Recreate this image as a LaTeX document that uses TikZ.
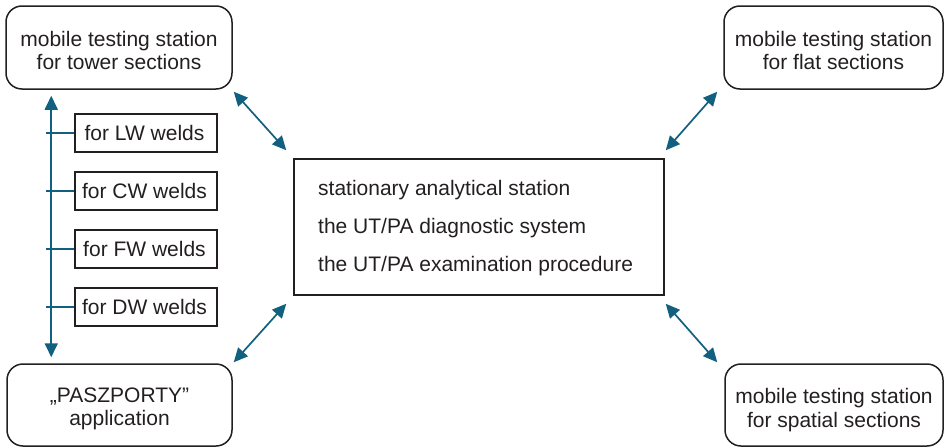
\documentclass[tikz,border=0pt]{standalone}
\usepackage{fontspec}
\setmainfont{Liberation Sans}
\usetikzlibrary{arrows.meta,calc}
\definecolor{linkblue}{RGB}{18,96,128}
\definecolor{ink}{RGB}{35,31,32}
\tikzset{
  rbox/.style={draw=ink,line width=1.5pt,rounded corners=16pt,inner sep=0pt},
  rtext/.style={align=center,text=ink,font=\fontsize{21}{23.5}\selectfont,inner sep=0pt},
  sbox/.style={draw=ink,line width=1.5pt,minimum width=142pt,minimum height=38pt,inner sep=0pt,
    text=ink,font=\fontsize{21}{23}\selectfont},
  cbox/.style={draw=ink,line width=1.5pt,minimum width=370pt,minimum height=136pt,inner sep=0pt},
  ctext/.style={anchor=west,text=ink,font=\fontsize{21}{23}\selectfont,inner sep=0pt},
  link/.style={draw=linkblue,line width=1.7pt,>={Triangle[length=14pt,width=13pt]},<->},
  tickline/.style={draw=linkblue,line width=1.8pt}
}
\begin{document}
\begin{tikzpicture}[x=1pt,y=-1pt]
\useasboundingbox (0,0) rectangle (948,447);
\node[rbox,minimum width=226pt,minimum height=83pt] (tl) at (119,47.5) {};
\node[rtext] (tlt) at ($(tl)+(0,3)$) {mobile testing station\\for tower sections};
\node[rbox,minimum width=219pt,minimum height=83pt] (tr) at (833.5,47.5) {};
\node[rtext] (trt) at ($(tr)+(0,3)$) {mobile testing station\\for flat sections};
\node[rbox,minimum width=225pt,minimum height=82pt] (bl) at (119.5,405) {};
\node[rtext] (blt) at ($(bl)+(0,4)$) {„PASZPORTY”\\application};
\node[rbox,minimum width=218pt,minimum height=82pt] (br) at (834,405) {};
\node[rtext] (brt) at ($(br)+(0,5)$) {mobile testing station\\for spatial sections};
\node[cbox] (c) at (479,227) {};
\node[ctext] (c1) at (318,190) {stationary analytical station};
\node[ctext] (c2) at (318,228) {the UT/PA diagnostic system};
\node[ctext] (c3) at (318,266.5) {the UT/PA examination procedure};
\node[sbox] (lw) at (146,133) {\hspace*{-3pt}for LW welds};
\node[sbox] (cw) at (146,191) {\hspace*{-3pt}for CW welds};
\node[sbox] (fw) at (146,249) {\hspace*{-3pt}for FW welds};
\node[sbox] (dw) at (146,307) {\hspace*{-3pt}for DW welds};
% vertical arrow
\coordinate (vt) at ($(tl.south west)+(46,6)$);
\coordinate (vb) at ($(bl.north west)+(45,-6)$);
\draw[link] (vt) -- (vb);
\foreach \b in {lw,cw,fw,dw}{
  \draw[tickline] (\b.west) -- ++(-28,0);
}
% diagonal arrows
\draw[link] ($(tl.south east)+(1,2)$) -- ($(c.north west)+(-7,-8)$);
\draw[link] ($(tr.south west)+(-6,2)$) -- ($(c.north east)+(1,-8)$);
\draw[link] ($(bl.north east)+(1,-1)$) -- ($(c.south west)+(-7,8)$);
\draw[link] ($(br.north west)+(-7,-1)$) -- ($(c.south east)+(1,8)$);
\end{tikzpicture}
\end{document}
